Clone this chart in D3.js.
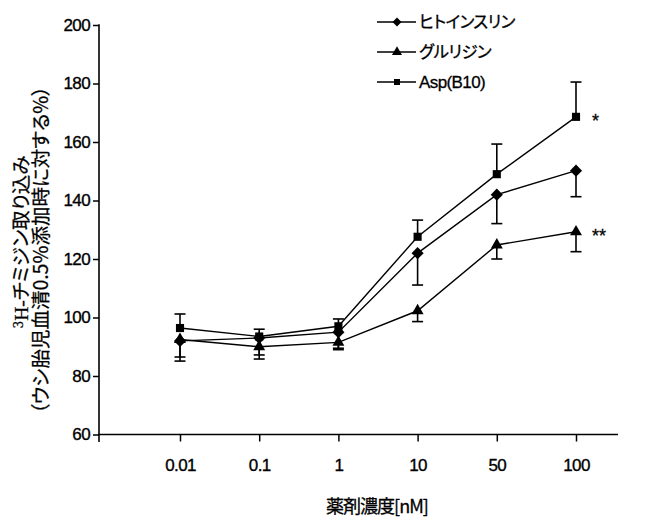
<!DOCTYPE html>
<html>
<head>
<meta charset="utf-8">
<script src="https://cdn.jsdelivr.net/npm/d3@7"></script>
<style>
  body { margin: 0; background: #fff; }
  svg { display: block; }
  .tick text { font-family: "Liberation Sans", Arial, sans-serif; font-size: 17px; fill: #000; letter-spacing: -0.6px; stroke: #000; stroke-width: 0.35px; }
  .jp { font-family: "Noto Sans CJK JP", sans-serif; font-feature-settings: "palt"; }
</style>
</head>
<body>
<script>
// concentrations (nM) and series
var categories = ["0.01", "0.1", "1", "10", "50", "100"];
var seriesNames = ["ヒトインスリン", "グルリジン", "Asp(B10)"];
var humanMean = [92, 93, 95, 122, 142, 150.2];
var humanErr = [5.5, 5.8, 5.5, 10.9, 9.9, 8.9];
var gluMean = [92.5, 90, 91.5, 102.3, 124.8, 129.3];
var gluErr = [7.4, 4.2, 2.5, 3.7, 4.8, 6.8];
var aspMean = [96.4, 93.5, 97, 127.6, 149, 168.6];
var aspErr = [4.8, 2.5, 2.5, 5.7, 10.3, 11.9];
var marks = ["", "**", "*"]; // significance at 100 nM
var yTicks = [60, 80, 100, 120, 140, 160, 180, 200];

var svg_width = 645, svg_height = 519;
var svg = d3.select('body').append('svg')
  .attr('width', svg_width)
  .attr('height', svg_height);

var x = d3.scalePoint().domain(categories).range([180, 576]);
var y = d3.scaleLinear().domain([60, 200]).range([434.5, 25]);

// axes
var yAxis = svg.append('g')
  .attr('transform', 'translate(99,0)')
  .call(d3.axisLeft(y).tickValues(yTicks).tickSize(6).tickSizeOuter(0).tickPadding(3));
yAxis.select('.domain').remove();
yAxis.selectAll('line').attr('stroke', '#000').attr('stroke-width', 1.5);

var xAxis = svg.append('g')
  .attr('transform', 'translate(0,434.5)')
  .call(d3.axisBottom(x).tickSize(7).tickSizeOuter(0).tickPadding(17));
xAxis.select('.domain').remove();
xAxis.selectAll('line').attr('stroke', '#000').attr('stroke-width', 1.5);

svg.append('line')
  .attr('x1', 99).attr('y1', y(200) - 0.75)
  .attr('x2', 99).attr('y2', 442)
  .attr('stroke', '#000').attr('stroke-width', 1.6);
svg.append('line')
  .attr('x1', 98).attr('y1', 434.5)
  .attr('x2', 618).attr('y2', 434.5)
  .attr('stroke', '#000').attr('stroke-width', 1.6);

// series
var series = [
  { name: seriesNames[0], mean: humanMean, err: humanErr, dir: -1, sym: 'diamond', mark: marks[0] },
  { name: seriesNames[1], mean: gluMean, err: gluErr, dir: -1, sym: 'triangle', mark: marks[1] },
  { name: seriesNames[2], mean: aspMean, err: aspErr, dir: 1, sym: 'square', mark: marks[2] }
];

var line = d3.line()
  .x(function(d, i) { return x(categories[i]); })
  .y(function(d) { return y(d); });

var marker = function(g, sym, big) {
  if (sym == 'diamond') {
    g.append('path').attr('d', d3.symbol(d3.symbolSquare, big ? 74 : 40)())
      .attr('transform', 'rotate(45)');
  } else if (sym == 'triangle') {
    g.append('path').attr('d', d3.symbol(d3.symbolTriangle, big ? 62 : 44)());
  } else {
    g.append('path').attr('d', d3.symbol(d3.symbolSquare, big ? 66 : 36)());
  }
};

series.forEach(function(s) {
  svg.append('path')
    .attr('d', line(s.mean))
    .attr('fill', 'none')
    .attr('stroke', '#000')
    .attr('stroke-width', 1.4);

  // one-sided error bars
  var eb = svg.append('g').attr('stroke', '#000').attr('stroke-width', 1.6);
  s.mean.forEach(function(m, i) {
    var cx = x(categories[i]);
    var end = y(m + s.dir * s.err[i]);
    eb.append('line').attr('x1', cx).attr('x2', cx).attr('y1', y(m)).attr('y2', end);
    eb.append('line').attr('x1', cx - 5.5).attr('x2', cx + 5.5).attr('y1', end).attr('y2', end);
  });
});

series.forEach(function(s) {
  s.mean.forEach(function(m, i) {
    var g = svg.append('g')
      .attr('transform', 'translate(' + x(categories[i]) + ',' + y(m) + ')')
      .attr('fill', '#000');
    marker(g, s.sym, true);
  });
});

// significance marks next to the 100 nM points
series.forEach(function(s) {
  if (!s.mark) return;
  svg.append('text')
    .attr('x', x(categories[categories.length - 1]) + 16)
    .attr('y', y(s.mean[s.mean.length - 1]) + 10)
    .attr('font-family', '"Liberation Sans", Arial, sans-serif')
    .attr('font-size', 18)
    .attr('stroke', '#000').attr('stroke-width', 0.3)
    .text(s.mark);
});

// legend
var legend = svg.append('g');
series.forEach(function(s, i) {
  var ly = 22 + i * 30;
  legend.append('line')
    .attr('x1', 377).attr('x2', 416).attr('y1', ly).attr('y2', ly)
    .attr('stroke', '#000').attr('stroke-width', 1.4);
  var g = legend.append('g').attr('transform', 'translate(397,' + ly + ')');
  marker(g, s.sym, false);
  legend.append('text')
    .attr('class', i < 2 ? 'jp' : '')
    .attr('x', 419).attr('y', ly + 6)
    .attr('font-family', i < 2 ? null : '"Liberation Sans", Arial, sans-serif')
    .attr('font-size', i < 2 ? 16.5 : 17)
    .attr('letter-spacing', i < 2 ? -0.5 : -0.6)
    .attr('stroke', '#000').attr('stroke-width', 0.3)
    .text(s.name);
});

// axis titles
var t1 = svg.append('text')
  .attr('class', 'jp')
  .attr('text-anchor', 'middle')
  .attr('font-size', 19.5)
  .attr('stroke', '#000').attr('stroke-width', 0.25)
  .attr('transform', 'translate(28,242) rotate(-90)');
t1.append('tspan').attr('font-size', 12).attr('baseline-shift', '45%').attr('font-family', '"DejaVu Serif", serif').text('3');
t1.append('tspan').attr('font-family', '"Liberation Serif", serif').text('H-');
t1.append('tspan').text('チミジン取り込み');

svg.append('text')
  .attr('class', 'jp')
  .attr('text-anchor', 'middle')
  .attr('font-size', 19.5)
  .attr('stroke', '#000').attr('stroke-width', 0.25)
  .attr('transform', 'translate(48,250) rotate(-90)')
  .text('（ウシ胎児血清0.5%添加時に対する%）');

svg.append('text')
  .attr('class', 'jp')
  .attr('text-anchor', 'middle')
  .attr('x', 377).attr('y', 513)
  .attr('font-size', 18)
  .attr('letter-spacing', -1)
  .attr('stroke', '#000').attr('stroke-width', 0.3)
  .text('薬剤濃度[nM]');
</script>
</body>
</html>
